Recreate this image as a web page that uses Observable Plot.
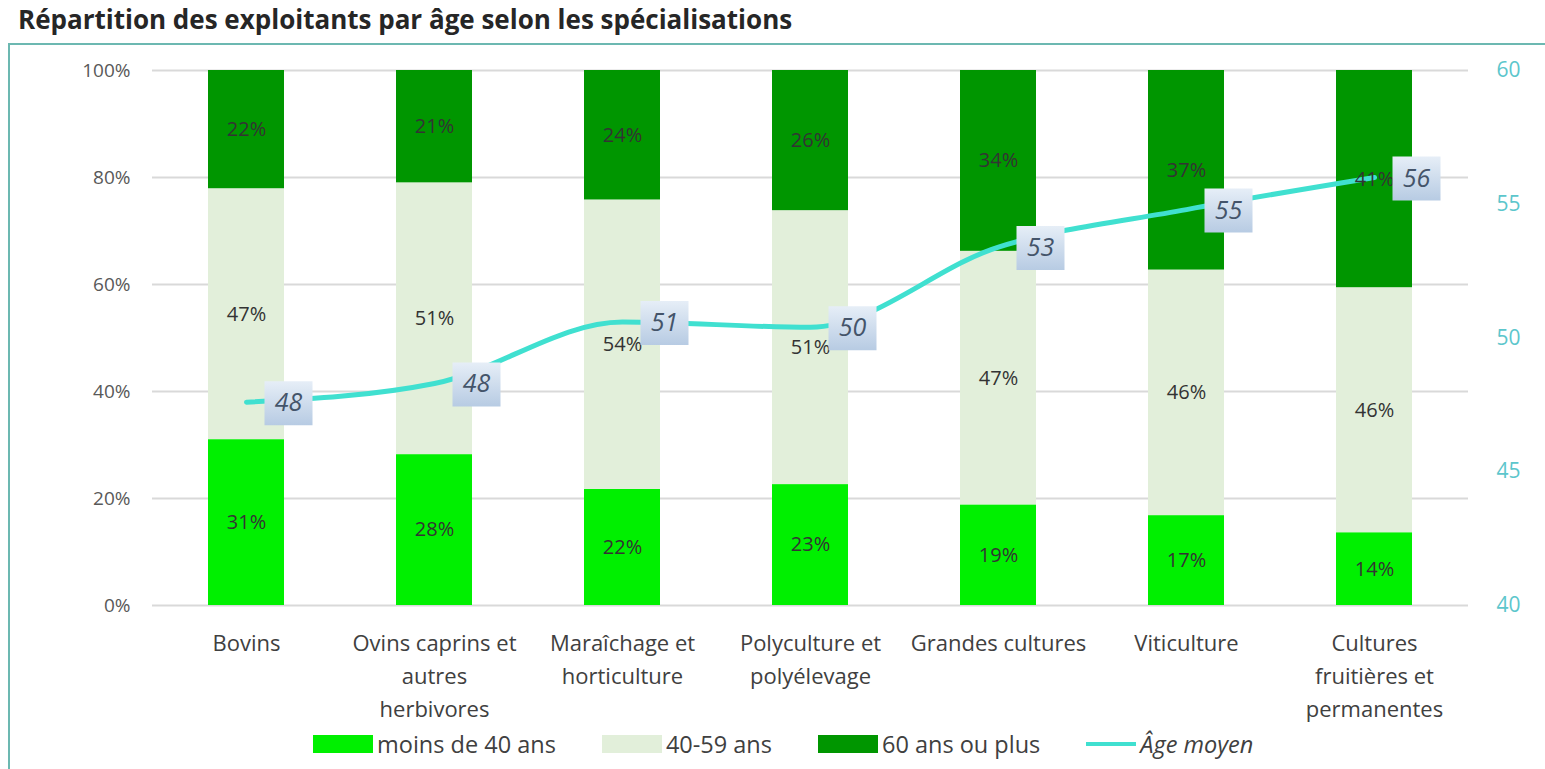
<!DOCTYPE html>
<html>
<head>
<meta charset="utf-8">
<script src="https://cdn.jsdelivr.net/npm/d3@7"></script>
<script src="https://cdn.jsdelivr.net/npm/@observablehq/plot@0.6"></script>
<style>
  html, body { margin: 0; padding: 0; background: #fff; }
  body { width: 1545px; height: 769px; position: relative; overflow: hidden; font-family: "Open Sans", sans-serif; }
  #title { position: absolute; left: 18px; top: 7px; font-size: 26px; line-height: 25px; font-weight: 700; color: #262626; white-space: nowrap; }
  #frame { position: absolute; left: 8px; top: 43px; width: 1600px; height: 800px; border-top: 2px solid #6cb8b1; border-left: 2px solid #6cb8b1; box-sizing: border-box; }
  #chart { position: absolute; left: 0; top: 40px; }
  #legend { position: absolute; left: 313px; top: 728px; display: flex; align-items: center; font-size: 23.5px; color: #404040; white-space: nowrap; }
  .item { display: flex; align-items: center; margin-right: 46px; }
  .sw { width: 60px; height: 18px; margin-right: 4px; }
  .ln { width: 50px; height: 4px; margin-right: 4px; background: #40e0d0; }
</style>
</head>
<body>
<div id="title">Répartition des exploitants par âge selon les spécialisations</div>
<div id="frame"></div>
<div id="chart"></div>
<div id="legend"></div>
<script>
// ---- data ----
const categories = ["Bovins", "Ovins caprins et autres herbivores", "Maraîchage et horticulture", "Polyculture et polyélevage", "Grandes cultures", "Viticulture", "Cultures fruitières et permanentes"];
const tickLabels = ["Bovins", "Ovins caprins et\nautres\nherbivores", "Maraîchage et\nhorticulture", "Polyculture et\npolyélevage", "Grandes cultures", "Viticulture", "Cultures\nfruitières et\npermanentes"];
const ageGroups = ["moins de 40 ans", "40-59 ans", "60 ans ou plus"];
const under40 = [31.0, 28.2, 21.7, 22.6, 18.8, 16.8, 13.6];
const from40to59 = [46.9, 50.8, 54.1, 51.2, 47.4, 45.9, 45.8];
const over60 = [22.1, 21.0, 24.2, 26.2, 33.8, 37.3, 40.6];
const meanAge = [47.6, 48.3, 50.6, 50.4, 53.4, 54.8, 56.0];
const leftTicks = [0, 20, 40, 60, 80, 100];
const rightTicks = [40, 45, 50, 55, 60];
const groupColors = ["#00f000", "#e2efda", "#009600"];
const lineColor = "#40e0d0";
const lineLabel = "Âge moyen";

// ---- tables ----
const series = [under40, from40to59, over60];
const rows = categories.flatMap((c, i) => ageGroups.map((g, j) => ({cat: c, group: g, value: series[j][i]})));
const ages = categories.map((c, i) => ({cat: c, age: meanAge[i]}));
const ageMin = rightTicks[0], ageMax = rightTicks[rightTicks.length - 1];
const toPct = a => (a - ageMin) / (ageMax - ageMin) * 100;

const boxSymbol = {
  draw(ctx) {
    ctx.moveTo(-24, -22); ctx.lineTo(24, -22); ctx.lineTo(24, 22); ctx.lineTo(-24, 22); ctx.closePath();
  }
};

const chart = Plot.plot({
  width: 1545,
  height: 690,
  marginTop: 30,
  marginBottom: 125,
  marginLeft: 152,
  marginRight: 77,
  style: {fontFamily: "Open Sans, sans-serif", fontSize: "20px", background: "transparent"},
  x: {domain: categories, padding: 0, label: null},
  y: {domain: [0, 100], label: null},
  color: {domain: ageGroups, range: groupColors},
  marks: [
    Plot.gridY(leftTicks, {stroke: "#d9d9d9", strokeOpacity: 1, strokeWidth: 2}),
    Plot.axisY(leftTicks, {anchor: "left", tickSize: 0, tickPadding: 22, tickFormat: d => d + "%", fontSize: 19, color: "#595959", label: null}),
    Plot.axisY(rightTicks.map(toPct), {anchor: "right", tickSize: 0, tickPadding: 28, tickFormat: d => String(Math.round(ageMin + d / 100 * (ageMax - ageMin))), fontSize: 21, color: "#5cc6cc", label: null}),
    Plot.axisX({tickSize: 0, tickPadding: 22, fontSize: 22, lineHeight: 1.5, color: "#404040", tickFormat: d => tickLabels[categories.indexOf(d)], label: null}),
    Plot.barY(rows, Plot.stackY({x: "cat", y: "value", fill: "group", order: ageGroups, insetLeft: 56, insetRight: 56})),
    Plot.line(ages, {x: "cat", y: d => toPct(d.age), stroke: lineColor, strokeWidth: 5, curve: "monotone-x"}),
    Plot.text(rows, Plot.stackY({x: "cat", y: "value", z: "group", order: ageGroups, text: d => Math.round(d.value) + "%", fill: "#333333", fontSize: 20})),
    Plot.dot(ages, {x: "cat", y: d => toPct(d.age), symbol: boxSymbol, fill: "url(#ageGrad)", stroke: "none", dx: 42, dy: 1}),
    Plot.text(ages, {x: "cat", y: d => toPct(d.age), text: d => String(Math.round(d.age)), dx: 42, dy: 1, fontSize: 25, fontStyle: "italic", fill: "#44546a"})
  ]
});

// gradient for the label boxes
const svg = d3.select(chart);
const defs = svg.insert("defs", ":first-child");
const grad = defs.append("linearGradient").attr("id", "ageGrad").attr("x1", 0).attr("y1", 0).attr("x2", 0).attr("y2", 1);
grad.append("stop").attr("offset", "0%").attr("stop-color", "#e6eef7");
grad.append("stop").attr("offset", "100%").attr("stop-color", "#b7cbe3");

document.getElementById("chart").append(chart);

// legend
const legend = d3.select("#legend");
ageGroups.forEach((g, i) => {
  const it = legend.append("div").attr("class", "item");
  it.append("div").attr("class", "sw").style("background", groupColors[i]);
  it.append("span").text(g);
});
const li = legend.append("div").attr("class", "item");
li.append("div").attr("class", "ln");
li.append("span").style("font-style", "italic").text(lineLabel);
</script>
</body>
</html>
